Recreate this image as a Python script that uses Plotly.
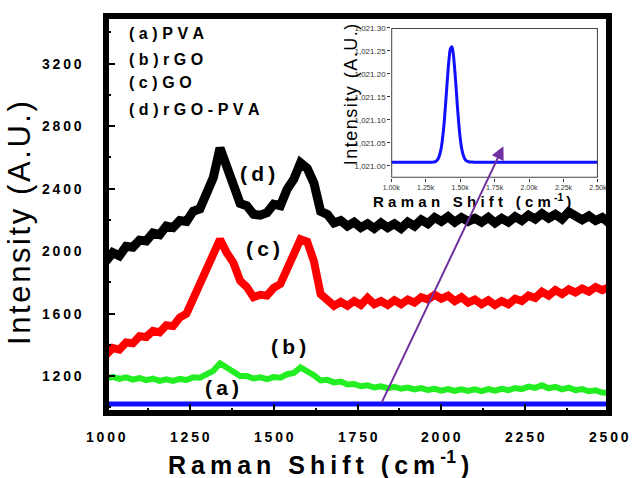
import plotly.graph_objects as go

# ---------------- data ----------------
shift = list(range(1000, 2501, 20))  # sampling grid of the main spectra (cm^-1)

rgo_pva = [1935, 1990, 1970, 2030, 2025, 2070, 2065, 2115, 2105, 2160,
           2150, 2195, 2190, 2255, 2270, 2360, 2470, 2660, 2545, 2435,
           2305, 2290, 2235, 2230, 2245, 2300, 2290, 2395, 2460, 2565,
           2530, 2435, 2255, 2235, 2180, 2195, 2160, 2185, 2150, 2175,
           2145, 2180, 2150, 2175, 2145, 2185, 2160, 2200, 2175, 2215,
           2190, 2220, 2185, 2215, 2190, 2210, 2185, 2215, 2180, 2210,
           2185, 2220, 2195, 2230, 2205, 2240, 2210, 2235, 2205, 2250,
           2220, 2200, 2225, 2195, 2215, 2180]

go_vals = [1335, 1380, 1370, 1415, 1410, 1455, 1450, 1490, 1480, 1525,
           1520, 1575, 1600, 1695, 1770, 1895, 1990, 2075, 1990, 1925,
           1810, 1770, 1705, 1720, 1715, 1765, 1790, 1885, 1950, 2075,
           2060, 1935, 1725, 1690, 1650, 1675, 1650, 1680, 1655, 1700,
           1660, 1680, 1655, 1685, 1660, 1690, 1670, 1705, 1690, 1720,
           1695, 1715, 1680, 1705, 1670, 1690, 1660, 1685, 1655, 1680,
           1660, 1695, 1680, 1715, 1700, 1740, 1715, 1750, 1725, 1755,
           1735, 1760, 1740, 1770, 1750, 1770]

rgo = [1185, 1195, 1182, 1192, 1178, 1188, 1174, 1184, 1170, 1180,
       1170, 1182, 1175, 1192, 1190, 1216, 1234, 1282, 1258, 1230,
       1200, 1200, 1185, 1192, 1180, 1194, 1190, 1212, 1220, 1256,
       1234, 1206, 1172, 1176, 1160, 1165, 1146, 1150, 1135, 1141,
       1127, 1135, 1123, 1131, 1119, 1127, 1115, 1123, 1111, 1119,
       1107, 1117, 1106, 1115, 1105, 1116, 1104, 1117, 1107, 1119,
       1110, 1124, 1117, 1133, 1125, 1142, 1122, 1131, 1115, 1126,
       1110, 1117, 1103, 1109, 1095, 1092]

pva_shift = [1000, 1100, 1200, 1300, 1320, 1340, 1360, 1380, 1390, 1400,
             1410, 1420, 1430, 1440, 1450, 1460, 1470, 1480, 1490, 1500,
             1510, 1520, 1540, 1560, 1600, 1800, 2000, 2200, 2400, 2500]
pva = [1021.008, 1021.008, 1021.008, 1021.008, 1021.009, 1021.015, 1021.034,
       1021.080, 1021.116, 1021.157, 1021.198, 1021.233, 1021.255, 1021.259,
       1021.244, 1021.213, 1021.174, 1021.131, 1021.093, 1021.062, 1021.040,
       1021.026, 1021.012, 1021.009, 1021.008, 1021.008, 1021.008, 1021.008,
       1021.008, 1021.008]

x_range = [1000, 2500]
y_range = [964, 3504]
inset_y_range = [1020.974, 1021.30]

x_ticks = [1000, 1250, 1500, 1750, 2000, 2250, 2500]
x_minor = [1125, 1375, 1625, 1875, 2125, 2375]
x_tick_labels = ["1000", "1250", "1500", "1750", "2000", "2250", "2500"]
y_ticks = [1200, 1600, 2000, 2400, 2800, 3200]
y_minor = [1000, 1400, 1800, 2200, 2600, 3000, 3400]
y_tick_labels = ["1200", "1600", "2000", "2400", "2800", "3200"]
inset_x_labels = ["1.00k", "1.25k", "1.50k", "1.75k", "2.00k", "2.25k", "2.50k"]
inset_y_ticks = [1021.00, 1021.05, 1021.10, 1021.15, 1021.20, 1021.25, 1021.30]
inset_y_labels = ["1,021.00", "1,021.05", "1,021.10", "1,021.15", "1,021.20",
                  "1,021.25", "1,021.30"]
legend_lines = ["(a)PVA", "(b)rGO", "(c)GO", "(d)rGO-PVA"]
curve_labels = ["(a)", "(b)", "(c)", "(d)"]
curve_label_pos = [(1345, 1129), (1545, 1389), (1467, 2018), (1452, 2494)]

FONT = "Liberation Sans, Arial, sans-serif"
TS = "\u2009"   # thin space (wide letter spacing of the original)
HS = "\u200a"   # hair space


def spaced(s, sep=TS):
    return sep.join(s)


def bold(s):
    return "<b>" + s + "</b>"


def box(xr, yr):
    """Closed outline running along the limits of an axis pair."""
    return ([xr[0], xr[1], xr[1], xr[0], xr[0]],
            [yr[0], yr[0], yr[1], yr[1], yr[0]])


fig = go.Figure()

fig.add_trace(go.Scatter(x=shift, y=rgo_pva, mode="lines",
                         line=dict(color="#000000", width=9), showlegend=False))
fig.add_trace(go.Scatter(x=shift, y=go_vals, mode="lines",
                         line=dict(color="#ff0000", width=8), showlegend=False))
fig.add_trace(go.Scatter(x=shift, y=rgo, mode="lines",
                         line=dict(color="#22ee22", width=6), showlegend=False))
fig.add_trace(go.Scatter(x=pva_shift, y=pva, mode="lines",
                         line=dict(color="#1010ff", width=5), showlegend=False))
# empty trace that only carries the minor-tick axes
fig.add_trace(go.Scatter(x=[], y=[], xaxis="x3", yaxis="y3", showlegend=False,
                         hoverinfo="skip"))
# main frame along the axis limits (half of the stroke is clipped away)
fx, fy = box(x_range, y_range)
fig.add_trace(go.Scatter(x=fx, y=fy, mode="lines", showlegend=False,
                         hoverinfo="skip", line=dict(color="black", width=6)))

# inset
fig.add_trace(go.Scatter(x=pva_shift, y=pva, mode="lines", xaxis="x2", yaxis="y2",
                         line=dict(color="#1010ff", width=3, shape="spline"),
                         showlegend=False))
ix, iy = box(x_range, inset_y_range)
fig.add_trace(go.Scatter(x=ix, y=iy, mode="lines", xaxis="x2", yaxis="y2",
                         showlegend=False, hoverinfo="skip",
                         line=dict(color="#444444", width=2)))

fig.update_layout(
    width=632, height=478,
    margin=dict(l=106, r=23, t=13, b=65),
    paper_bgcolor="white", plot_bgcolor="rgba(0,0,0,0)",
    font=dict(family=FONT, color="black"),
    xaxis=dict(range=x_range, domain=[0, 1], showgrid=False, zeroline=False,
               showline=True, linewidth=3, linecolor="black", mirror=True,
               ticks="inside", ticklen=9, tickwidth=2,
               tickcolor="black", tickvals=x_ticks, showticklabels=False),
    yaxis=dict(range=y_range, domain=[0, 1], showgrid=False, zeroline=False,
               showline=True, linewidth=3, linecolor="black", mirror=True,
               ticks="inside", ticklen=9, tickwidth=2,
               tickcolor="black", tickvals=y_ticks, showticklabels=False),
    xaxis3=dict(range=x_range, overlaying="x", anchor="y3", side="bottom",
                showgrid=False, zeroline=False, showline=False,
                ticks="inside", ticklen=5, tickwidth=2, tickcolor="black",
                tickvals=x_minor, showticklabels=False),
    yaxis3=dict(range=y_range, overlaying="y", anchor="x3", side="left",
                showgrid=False, zeroline=False, showline=False,
                ticks="inside", ticklen=5, tickwidth=2, tickcolor="black",
                tickvals=y_minor, showticklabels=False),
    xaxis2=dict(range=x_range, domain=[0.567, 0.978], anchor="y2",
                showgrid=False, zeroline=False, showline=False,
                ticks="outside", ticklen=3, tickwidth=1, tickcolor="#333333",
                tickvals=x_ticks, ticktext=inset_x_labels,
                tickfont=dict(family=FONT, size=7, color="#333333")),
    yaxis2=dict(range=inset_y_range, domain=[0.5925, 0.97], anchor="x2",
                showgrid=False, zeroline=False, showline=False,
                ticks="outside", ticklen=3, tickwidth=1, tickcolor="#333333",
                tickvals=inset_y_ticks, ticktext=inset_y_labels,
                tickfont=dict(family=FONT, size=8, color="#333333")),
)

ann = []
# main tick labels (letter-spaced, as in the original)
for v, t in zip(x_ticks, x_tick_labels):
    ann.append(dict(xref="x", yref="paper", x=v, y=-0.06, xanchor="center",
                    yanchor="middle", showarrow=False, text=bold(spaced(t)),
                    font=dict(family=FONT, size=14, color="black")))
for v, t in zip(y_ticks, y_tick_labels):
    ann.append(dict(xref="paper", yref="y", x=-0.043, y=v, xanchor="right",
                    yanchor="middle", showarrow=False, text=bold(spaced(t)),
                    font=dict(family=FONT, size=14, color="black")))
# axis titles
ann.append(dict(xref="paper", yref="paper", x=0.4215, y=-0.125, xanchor="center",
                yanchor="middle", showarrow=False,
                text=bold(spaced("Raman Shift (cm") + TS + "<sup>-1</sup>" + TS + ")"),
                font=dict(family=FONT, size=25, color="black")))
ann.append(dict(xref="paper", yref="paper", x=-0.172, y=0.48, xanchor="center",
                yanchor="middle", showarrow=False, textangle=-90,
                text=spaced("Intensity (A.U.)", HS),
                font=dict(family=FONT, size=31, color="black")))
# inset titles
ann.append(dict(xref="paper", yref="paper", x=0.7276, y=0.535, xanchor="center",
                yanchor="middle", showarrow=False,
                text=bold(spaced("Raman Shift (cm", TS + HS) + TS + "<sup>-1</sup>"
                          + TS + ")"),
                font=dict(family=FONT, size=15, color="black")))
ann.append(dict(xref="paper", yref="paper", x=0.487, y=0.8025, xanchor="center",
                yanchor="middle", showarrow=False, textangle=-90,
                text=spaced("Intensity (A.U.)", HS),
                font=dict(family=FONT, size=18, color="black")))
# legend text block
for t, yy in zip(legend_lines, [0.955, 0.89, 0.8325, 0.765]):
    ann.append(dict(xref="paper", yref="paper", x=0.0417, y=yy, xanchor="left",
                    yanchor="middle", showarrow=False, text=bold(spaced(t, TS + HS)),
                    font=dict(family=FONT, size=16, color="black")))
# curve labels
for t, (xx, yy) in zip(curve_labels, curve_label_pos):
    ann.append(dict(xref="x", yref="y", x=xx, y=yy, xanchor="center",
                    yanchor="middle", showarrow=False, text=bold(spaced(t)),
                    font=dict(family=FONT, size=21, color="black")))
# arrow to the inset
ann.append(dict(xref="x", yref="y", axref="x", ayref="y", x=2185, y=2670,
                ax=1820, ay=1021, text="", showarrow=True, arrowhead=2,
                arrowsize=1.3, arrowwidth=2, arrowcolor="#7030a0", standoff=0))
fig.update_layout(annotations=ann)

fig.write_html("out.html")
